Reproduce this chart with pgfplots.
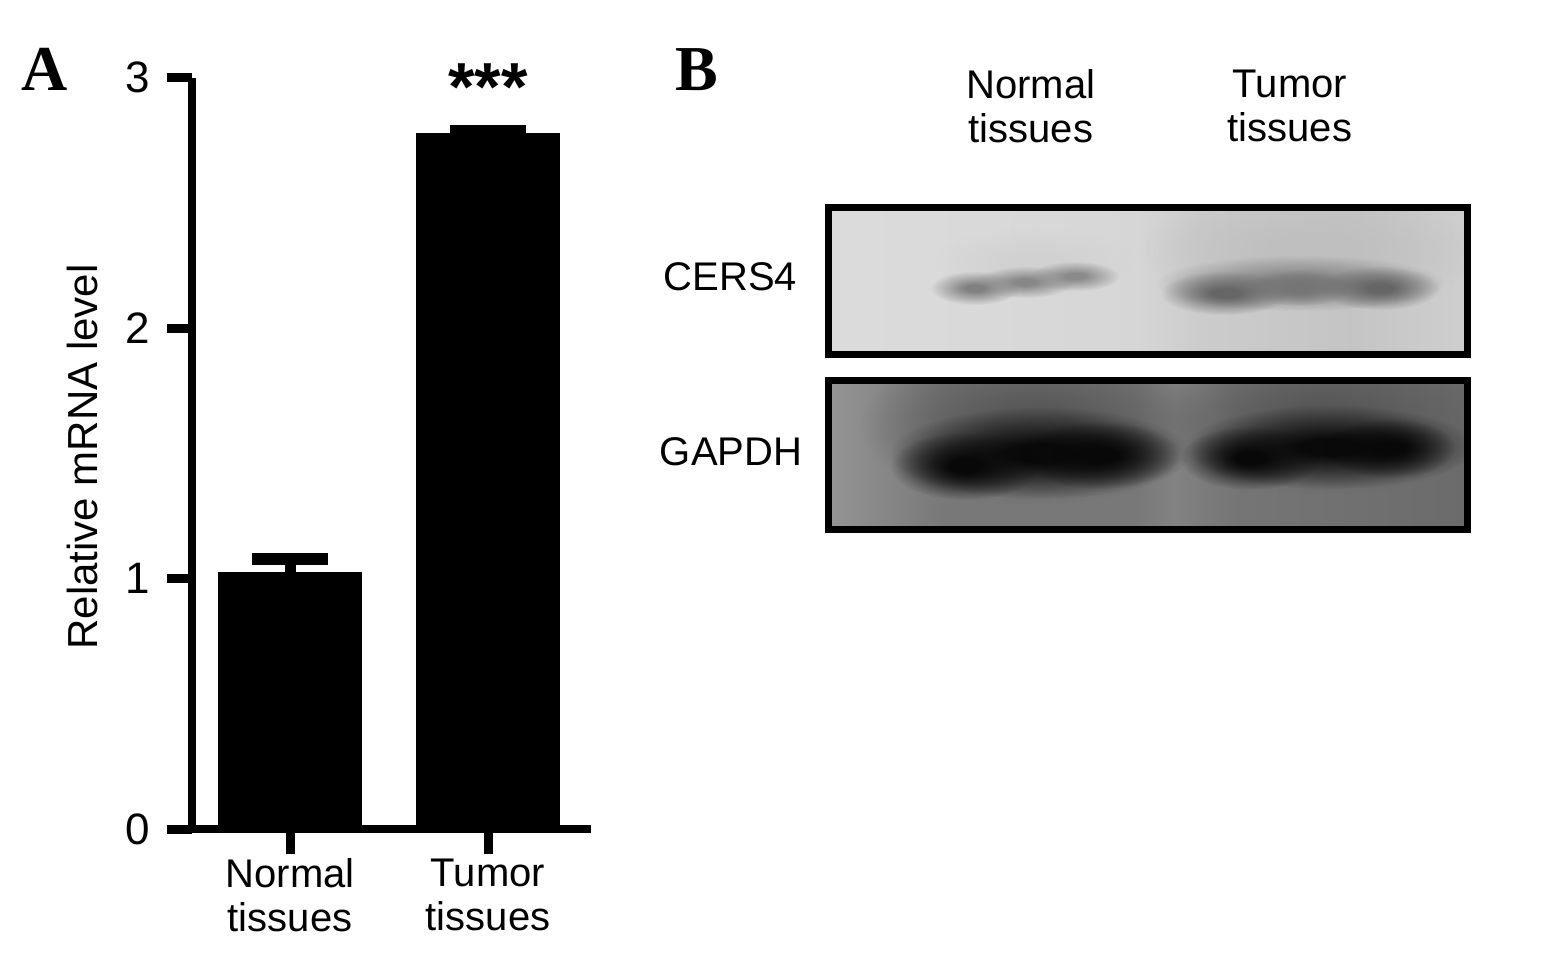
\documentclass[border=0pt]{standalone}
\usepackage{fontspec}
\setmainfont{Liberation Sans}
\newfontfamily\timesfont{Liberation Serif}
\usepackage{pgfplots}
\pgfplotsset{compat=1.18}
\usetikzlibrary{fadings}

% soft blob used for the blot bands
\pgfdeclareradialshading{softshade}{\pgfpointorigin}{color(0bp)=(white); color(5bp)=(white); color(14bp)=(white!55!black); color(25bp)=(black); color(50bp)=(black)}
\pgfdeclarefading{soft}{\pgfuseshading{softshade}}
\newcommand{\blob}[5]{\fill[#5, path fading=soft] (#1,#2) ellipse ({#3} and {#4});}

% blot backgrounds (path is mapped to 25bp..75bp)
\pgfdeclarehorizontalshading{topbg}{100bp}{rgb(0bp)=(0.86,0.86,0.86); rgb(25bp)=(0.86,0.86,0.86); rgb(38bp)=(0.85,0.85,0.85); rgb(49bp)=(0.84,0.84,0.84); rgb(54bp)=(0.80,0.80,0.80); rgb(66bp)=(0.77,0.77,0.77); rgb(75bp)=(0.81,0.81,0.81); rgb(100bp)=(0.81,0.81,0.81)}
\pgfdeclarehorizontalshading{botbg}{100bp}{rgb(0bp)=(0.58,0.58,0.58); rgb(25bp)=(0.58,0.58,0.58); rgb(29bp)=(0.53,0.53,0.53); rgb(34bp)=(0.47,0.47,0.47); rgb(49bp)=(0.47,0.47,0.47); rgb(52bp)=(0.51,0.51,0.51); rgb(57bp)=(0.46,0.46,0.46); rgb(75bp)=(0.42,0.42,0.42); rgb(100bp)=(0.42,0.42,0.42)}

\newcommand{\lbl}{\fontsize{10}{11}\selectfont}

\begin{document}
\begin{tikzpicture}
\path[use as bounding box] (0,0) rectangle (389pt,-244pt);

% ---- panel A ----
\begin{axis}[
    at={(48pt,-207.25pt)}, anchor=south west,
    scale only axis, width=99.75pt, height=187.875pt,
    xmin=-0.495, xmax=1.52, ymin=0, ymax=3,
    axis x line*=bottom, axis y line*=left,
    axis line style={line width=2pt},
    xtick={0,1}, xticklabels={Normal\\tissues,Tumor\\tissues},
    ytick={0,1,2,3}, yticklabels={0,1,2,3},
    tick align=outside, major tick length=6.25pt,
    every tick/.style={black, line width=2.25pt},
    xticklabel style={font=\lbl, align=center, inner sep=0pt, yshift=-1pt},
    yticklabel style={font=\fontsize{11}{12}\selectfont, inner sep=0pt, xshift=-4pt},
    ylabel={Relative mRNA level},
    ylabel style={font=\fontsize{10.5}{12}\selectfont, at={(axis description cs:-0.2757,0.495)}, anchor=center},
    clip=false,
]
\addplot[ybar, bar width=35.5pt, fill=black, draw=black,
    error bars/.cd, y dir=plus, y explicit,
    error bar style={line width=2.75pt, black},
    error mark options={rotate=90, line width=3pt, mark size=9.6pt, black}]
    coordinates {(0,1.022) +- (0,0.054) (1,2.776) +- (0,0.01)};
\node[font=\bfseries\fontsize{17}{17}\selectfont, yshift=-2.5pt] at (axis cs:1,3) {***};
\end{axis}

\node[font=\timesfont\bfseries\fontsize{16}{16}\selectfont] at (11.25pt,-17.25pt) {A};

% ---- panel B ----
\begin{scope}[x=0.25pt, y=-0.25pt]
\node[font=\timesfont\bfseries\fontsize{16}{16}\selectfont] at (697,70) {B};
\node[font=\lbl, align=center] at (1031,106) {Normal\\tissues};
\node[font=\lbl, align=center] at (1290,106) {Tumor\\tissues};
\node[font=\lbl, anchor=east, inner sep=0pt] at (798,277) {CERS4};
\node[font=\lbl, anchor=east, inner sep=0pt] at (803,452) {GAPDH};

% CERS4 blot
\begin{scope}
\clip (831,211) rectangle (1465,351);
\shade[shading=topbg] (831,211) rectangle (1465,351);
\blob{1310}{250}{170}{60}{black!25}
\blob{1035}{262}{100}{35}{black!18}
% normal lane band (slightly curved)
\blob{975}{288}{45}{17}{black!50}
\blob{1025}{282}{50}{16}{black!47}
\blob{1075}{276}{45}{15}{black!46}
% tumor lane band
\blob{1300}{283}{145}{28}{black!50}
\blob{1225}{293}{65}{22}{black!60}
\blob{1300}{288}{50}{18}{black!54}
\blob{1380}{288}{60}{22}{black!60}
\end{scope}

% GAPDH blot
\begin{scope}
\clip (831,384) rectangle (1465,526);
\shade[shading=botbg] (831,384) rectangle (1465,526);
\blob{1035}{425}{175}{80}{black!66}
\blob{1325}{420}{170}{75}{black!66}
\blob{1040}{453}{150}{46}{black!96}
\blob{965}{466}{75}{34}{black!97}
\blob{1100}{455}{80}{34}{black!97}
\blob{1330}{447}{145}{42}{black!96}
\blob{1250}{458}{70}{32}{black!97}
\blob{1390}{448}{65}{30}{black!97}
\end{scope}

% frames
\draw[line width=1.75pt] (828.5,207.5) rectangle (1467.5,354.5);
\draw[line width=1.75pt] (828.5,380.5) rectangle (1467.5,529.5);
\end{scope}
\end{tikzpicture}
\end{document}
